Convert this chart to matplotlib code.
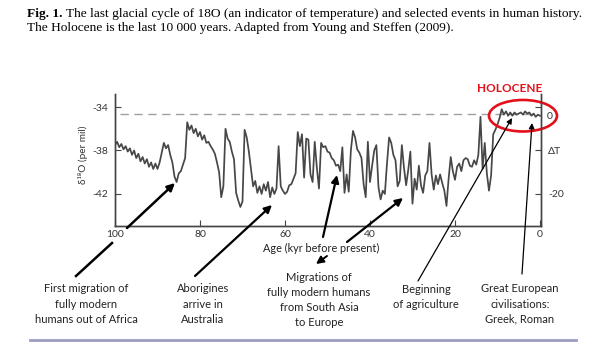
import numpy as np
import matplotlib
matplotlib.use('Agg')
import matplotlib.pyplot as plt
from matplotlib.patches import Ellipse

W, H = 599, 351

# 数据: 100 kyr -> 0 kyr, 每 0.5 kyr 一个点 (从图上读的)
age_kyr = np.arange(100, -0.5, -0.5)
d18o = [
    -37.5, -37.2, -37.7, -37.4, -37.9, -37.6, -38.1, -37.8, -38.4, -38.0,
    -38.7, -38.3, -39.0, -38.6, -39.2, -38.8, -39.5, -39.1, -39.7, -39.2,
    -39.7, -39.1, -38.2, -37.3, -37.8, -37.5, -38.4, -39.1, -40.4, -40.9,
    -40.1, -39.9, -39.3, -38.7, -35.4, -36.1, -35.7, -36.4, -36.0, -36.7,
    -36.3, -37.0, -36.6, -37.3, -37.2, -37.6, -37.9, -38.3, -39.1, -40.0,
    -42.3, -41.3, -36.0, -36.9, -37.2, -38.1, -38.8, -41.9, -42.6, -43.2,
    -42.7, -36.1, -36.8, -38.1, -39.7, -41.3, -40.8, -41.9, -41.3, -42.0,
    -41.1, -41.7, -40.9, -42.3, -41.4, -42.0, -41.5, -37.6, -41.3, -41.7,
    -42.0, -41.8, -41.2, -41.1, -40.6, -40.1, -36.3, -37.6, -36.5, -40.5,
    -36.9, -37.0, -40.2, -40.9, -37.2, -39.6, -41.5, -37.3, -37.7, -37.6,
    -38.1, -38.2, -38.7, -38.9, -39.4, -39.3, -39.9, -37.7, -41.9, -40.2,
    -41.8, -38.0, -36.2, -36.8, -37.9, -38.2, -38.7, -41.1, -42.3, -37.2,
    -40.9, -39.4, -38.0, -37.5, -41.4, -42.5, -41.7, -42.0, -39.2, -36.8,
    -37.3, -38.4, -38.9, -41.3, -40.8, -37.5, -39.6, -41.2, -39.8, -38.1,
    -42.9, -40.6, -41.6, -39.4, -41.2, -41.9, -40.3, -39.9, -37.3, -40.2,
    -41.6, -40.3, -41.1, -40.2, -41.0, -41.7, -43.1, -40.6, -38.6, -39.9,
    -40.7, -39.5, -39.2, -39.9, -38.9, -38.7, -38.8, -39.4, -39.5, -38.9,
    -39.3, -38.4, -34.9, -39.7, -37.3, -40.1, -41.7, -40.3, -36.5, -36.1,
    -35.6, -35.0, -34.2, -34.7, -34.4, -34.8, -34.5, -34.8, -34.5, -34.7,
    -34.6, -34.5, -34.7, -34.4, -34.6, -34.5, -34.8, -34.6, -34.9, -34.7,
    -34.8,
]
holocene_level = -34.6

x_ticks = [100, 80, 60, 40, 20, 0]
y_ticks = [-34, -38, -42]
right_labels = ['', 'ΔT', '-20']
right_zero = -34.8

events = [
    'First migration of\nfully modern\nhumans out of Africa',
    'Aborigines\narrive in\nAustralia',
    'Migrations of\nfully modern humans\nfrom South Asia\nto Europe',
    'Beginning\nof agriculture',
    'Great European\ncivilisations:\nGreek, Roman',
]

caption_bold = 'Fig. 1.'
caption_1 = 'The last glacial cycle of 18O (an indicator of temperature) and selected events in human history.'
caption_2 = 'The Holocene is the last 10 000 years. Adapted from Young and Steffen (2009).'

plt.rcParams['font.family'] = ['Lato', 'DejaVu Sans']
plt.rcParams['axes.unicode_minus'] = False

fig = plt.figure(figsize=(W / 100, H / 100), dpi=100)
fig.patch.set_facecolor('white')


def fp(x, y):
    # 像素 -> figure fraction
    return (x / W, 1 - y / H)


ax = fig.add_axes([115 / W, 1 - 226 / H, 426 / W, 132 / H])
ax.plot(age_kyr, d18o, color='#474747', lw=1.25, zorder=3)
ax.plot([98.8, 1], [holocene_level, holocene_level], color='#a0a0a0', lw=1.0,
        dashes=(6, 4), zorder=1)
ax.set_xlim(100, -0.24)
ax.set_ylim(-44.95, -32.8)
ax.set_xticks(x_ticks)
ax.set_yticks(y_ticks)
ax.spines['top'].set_visible(False)
for s in ax.spines.values():
    s.set_color('#444444')
    s.set_linewidth(1.0)
ax.tick_params(direction='in', length=4, width=0.8, color='#444444',
               labelsize=7.5, labelcolor='#333333', pad=3)
ax.tick_params(axis='y', pad=5)

# 右轴: ΔT
ax2 = ax.twinx()
ax2.set_ylim(ax.get_ylim())
ax2.set_yticks(y_ticks, labels=right_labels)
ax2.set_yticks([right_zero], labels=['0'], minor=True)
ax2.tick_params(which='major', direction='in', length=4, width=0.8, color='#444444',
                labelsize=7.5, labelcolor='#333333', pad=5)
ax2.tick_params(which='minor', length=0, labelsize=7.5, labelcolor='#333333', pad=4)
ax2.spines['top'].set_visible(False)
for s in ax2.spines.values():
    s.set_color('#444444')
    s.set_linewidth(1.0)

fig.text(*fp(83, 155), 'δ¹⁸O (per mil)', rotation=90, ha='center', va='center',
         fontsize=7.2, color='#333333')

# Holocene 红圈
ax.add_patch(Ellipse((4.0, -34.8), 16.0, 2.9, fill=False, edgecolor='#e3101a',
                     lw=1.9, clip_on=False, zorder=5))
fig.text(*fp(510, 89), 'HOLOCENE', color='#e3101a', fontsize=8.5, fontweight='bold',
         ha='center', va='center')

# 标题
r = fig.canvas.get_renderer()
tb = fig.text(*fp(27, 14), caption_bold, family='Liberation Serif', fontsize=9.6,
              fontweight='bold', va='center')
bb = tb.get_window_extent(r)
fig.text((bb.x1 + 3) / W, 1 - 14 / H, caption_1, family='Liberation Serif',
         fontsize=9.6, va='center')
fig.text(*fp(27, 28), caption_2, family='Liberation Serif', fontsize=9.6, va='center')

fig.text(*fp(321, 248), 'Age (kyr before present)', fontsize=7.8, ha='center',
         va='center', color='#222222')

# 事件文字
ev_pos = [(86, 304), (203, 304), (319, 300), (426, 297), (520, 304)]
for txt, (x, y) in zip(events, ev_pos):
    fig.text(*fp(x, y), txt, fontsize=8, ha='center', va='center',
             linespacing=1.45, color='#222222')

# 箭头
arrows = [
    ((127, 228), (175, 183), 1.8),
    ((195, 276), (272, 205), 1.6),
    ((323, 237), (337, 175), 1.6),
    ((347, 242), (403, 198), 1.6),
    ((327, 256), (316, 264), 1.4),
    ((418, 281), (512, 118), 0.9),
    ((522, 274), (532, 123), 0.9),
]
for (x0, y0), (x1, y1), lw in arrows:
    fig.add_artist(matplotlib.patches.FancyArrowPatch(
        fp(x0, y0), fp(x1, y1), transform=fig.transFigure,
        arrowstyle='-|>', mutation_scale=11 if lw > 1 else 8,
        lw=lw, color='black', shrinkA=0, shrinkB=0, zorder=6))
fig.add_artist(plt.Line2D([76 / W, 112 / W], [1 - 276 / H, 1 - 243 / H],
                          transform=fig.transFigure, color='black', lw=1.8))

# 底部横线
fig.add_artist(plt.Line2D([30 / W, 576 / W], [1 - 340 / H, 1 - 340 / H],
                          transform=fig.transFigure, color='#9b9ec0', lw=2.0))

fig.savefig('out.png', dpi=100)
